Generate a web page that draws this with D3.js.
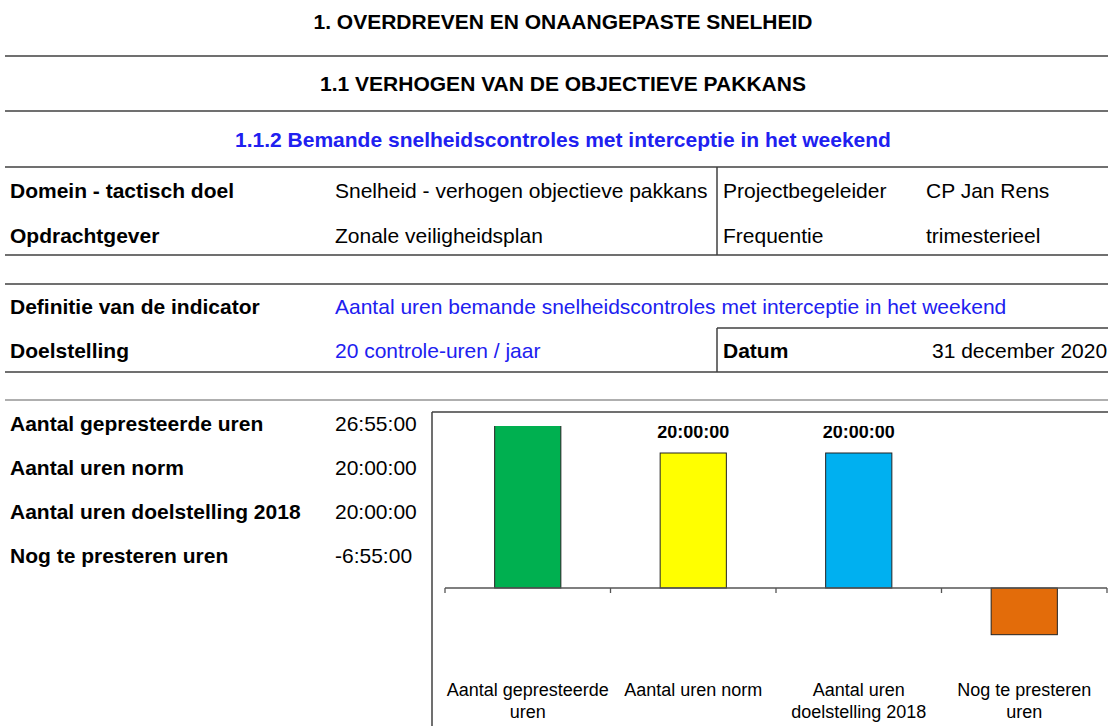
<!DOCTYPE html>
<html><head><meta charset="utf-8">
<script src="https://cdn.jsdelivr.net/npm/d3@7"></script>
<style>
html,body{margin:0;padding:0;background:#fff;overflow:hidden;}
svg{display:block;font-family:"Liberation Sans",Arial,sans-serif;}
</style></head>
<body><svg id="c" width="1108" height="726"></svg>
<script>
const categories = ["Aantal gepresteerde uren", "Aantal uren norm", "Aantal uren doelstelling 2018", "Nog te presteren uren"];
const tickLabels = [["Aantal gepresteerde", "uren"], ["Aantal uren norm"], ["Aantal uren", "doelstelling 2018"], ["Nog te presteren", "uren"]];
const valuesHMS = ["26:55:00", "20:00:00", "20:00:00", "-6:55:00"];
const barColors = ["#00B050", "#FFFF00", "#00B0F0", "#E36C0A"];
const yDomain = [-8, 24];

const headerInfo = [
  ["Domein - tactisch doel", "Snelheid - verhogen objectieve pakkans", "Projectbegeleider", "CP Jan Rens"],
  ["Opdrachtgever", "Zonale veiligheidsplan", "Frequentie", "trimesterieel"]
];

function toHours(s) {
  const neg = s.trim().startsWith("-");
  const p = s.replace("-", "").split(":").map(Number);
  const h = p[0] + p[1] / 60 + p[2] / 3600;
  return neg ? -h : h;
}
function fmt(h) {
  const neg = h < 0; let t = Math.round(Math.abs(h) * 3600);
  const hh = Math.floor(t / 3600), mm = Math.floor((t % 3600) / 60), ss = t % 60;
  return (neg ? "-" : "") + hh + ":" + String(mm).padStart(2, "0") + ":" + String(ss).padStart(2, "0");
}
const values = valuesHMS.map(toHours);

const svg = d3.select("#c");
const lineCol = "#404040";
const blue = "#2020F0";

function hline(y, x1, x2, col, w) {
  svg.append("line").attr("x1", x1).attr("x2", x2).attr("y1", y).attr("y2", y)
    .attr("stroke", col || lineCol).attr("stroke-width", w || 1.5);
}
function vline(x, y1, y2) {
  svg.append("line").attr("x1", x).attr("x2", x).attr("y1", y1).attr("y2", y2)
    .attr("stroke", lineCol).attr("stroke-width", 1.5);
}
function txt(x, y, s, opts) {
  opts = opts || {};
  return svg.append("text").attr("x", x).attr("y", y).text(s)
    .attr("font-size", opts.size || 21)
    .attr("font-weight", opts.bold ? "bold" : "normal")
    .attr("fill", opts.fill || "#000")
    .attr("text-anchor", opts.anchor || "start");
}

// headings
txt(563, 29, "1. OVERDREVEN EN ONAANGEPASTE SNELHEID", {bold: true, anchor: "middle", size: 21});
hline(56, 5, 1108);
txt(563, 91, "1.1 VERHOGEN VAN DE OBJECTIEVE PAKKANS", {bold: true, anchor: "middle", size: 21});
hline(111, 5, 1108);
txt(563, 147, "1.1.2 Bemande snelheidscontroles met interceptie in het weekend", {bold: true, anchor: "middle", size: 21, fill: blue});
hline(167, 5, 1108);

// info block
headerInfo.forEach((r, i) => {
  const y = 198 + i * 45;
  txt(10, y, r[0], {bold: true});
  txt(335, y, r[1]);
  txt(723, y, r[2]);
  txt(926, y, r[3]);
});
vline(717, 167, 255);
hline(255, 5, 1108);

hline(284, 5, 1108);
txt(10, 314, "Definitie van de indicator", {bold: true});
txt(335, 314, "Aantal uren bemande snelheidscontroles met interceptie in het weekend", {fill: blue});
hline(328, 717, 1108);
vline(717, 328, 372);
txt(10, 358, "Doelstelling", {bold: true});
txt(335, 358, "20 controle-uren / jaar", {fill: blue});
txt(723, 358, "Datum", {bold: true});
txt(932, 358, "31 december 2020");
hline(372, 5, 1108);
hline(400, 5, 1108, "#606060", 1.2);

// left stats
categories.forEach((c, i) => {
  const y = 431 + i * 44;
  txt(10, y, c, {bold: true});
  txt(335, y, valuesHMS[i]);
});

// chart box
vline(432, 412, 726);
hline(412, 432, 1108);

const x = d3.scaleBand().domain(categories).range([445, 1107]).paddingInner(0.6).paddingOuter(0.3);
const y = d3.scaleLinear().domain(yDomain).range([642, 426]);

svg.append("clipPath").attr("id", "plotclip").append("rect")
  .attr("x", 433).attr("y", y(yDomain[1])).attr("width", 675).attr("height", 726 - y(yDomain[1]));

const plot = svg.append("g").attr("clip-path", "url(#plotclip)");
plot.selectAll("rect.bar").data(categories).join("rect").attr("class", "bar")
  .attr("x", d => x(d))
  .attr("width", x.bandwidth())
  .attr("y", (d, i) => y(Math.max(0, values[i])))
  .attr("height", (d, i) => Math.abs(y(values[i]) - y(0)))
  .attr("fill", (d, i) => barColors[i])
  .attr("stroke", "#222").attr("stroke-width", 1);

plot.selectAll("text.lbl").data(categories.filter((d, i) => values[i] >= 0)).join("text").attr("class", "lbl")
  .attr("x", d => x(d) + x.bandwidth() / 2)
  .attr("y", d => y(values[categories.indexOf(d)]) - 15)
  .attr("text-anchor", "middle").attr("font-weight", "bold").attr("font-size", 18)
  .text(d => fmt(values[categories.indexOf(d)]));

// category axis at zero
const step = x.step();
const bounds = categories.map(c => x(c) + x.bandwidth() / 2 - step / 2).concat([x(categories[3]) + x.bandwidth() / 2 + step / 2]);
hline(y(0), bounds[0], bounds[4], "#555", 1.3);
bounds.forEach(b => {
  svg.append("line").attr("x1", b).attr("x2", b).attr("y1", y(0)).attr("y2", y(0) + 5)
    .attr("stroke", "#555").attr("stroke-width", 1.3);
});

categories.forEach((c, i) => {
  const t = svg.append("text").attr("text-anchor", "middle").attr("font-size", 18)
    .attr("x", x(c) + x.bandwidth() / 2).attr("y", 696);
  tickLabels[i].forEach((ln, j) => {
    t.append("tspan").attr("x", x(c) + x.bandwidth() / 2).attr("dy", j === 0 ? 0 : 22).text(ln);
  });
});
</script></body></html>
